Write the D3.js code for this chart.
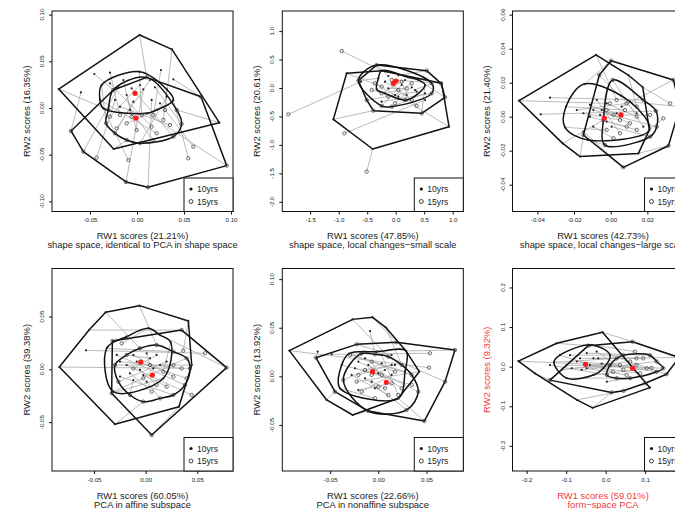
<!DOCTYPE html>
<html>
<head>
<meta charset="utf-8">
<script src="https://cdn.jsdelivr.net/npm/d3@7"></script>
<style>
  body { margin: 0; background: #fff; }
  svg { display: block; font-family: "Liberation Sans", Arial, Helvetica, sans-serif; }
</style>
</head>
<body>
<svg id="chart" width="675" height="509"></svg>
<script>
// Relative-warp scores of the same individuals at 10 and 15 years.
// Each row i in a "10" array is paired with row i in the matching "15" array.
const groupNames = ["10yrs", "15yrs"];

// shape space, identical to PCA in shape space
const shapeSpace10 = [[-0.0833,0.0203],[0.0028,0.0782],[0.0372,0.0628],[0.0876,-0.0157],[-0.0248,-0.0439],[-0.0454,0.0364],[-0.0287,0.0378],[0.0025,0.0389],[0.0255,0.0407],[0.0387,0.0307],[-0.0596,0.0168],[-0.0376,0.0246],[-0.0199,0.0221],[-0.0110,0.0139],[0.0067,0.0200],[0.0191,0.0221],[0.0316,0.0200],[0.0156,0.0086],[-0.0039,0.0068],[-0.0234,0.0086],[-0.0358,-0.0004],[0.0103,-0.0057],[-0.0074,-0.0021],[0.0245,0.0050],[-0.0145,0.0300],[0.0387,0.0086],
  [-0.0394,0.0086],[0.0138,0.0300],[-0.0181,0.0014],[0.0316,0.0121],[0.0032,0.0246],[-0.0287,0.0264],[0.0209,-0.0021],[-0.0057,0.0211]];
const shapeSpace15 = [[-0.0305,-0.0021],[0.0103,0.0328],[0.0298,-0.0021],[0.0422,-0.0021],[-0.0110,-0.0343],[-0.0252,0.0193],[-0.0181,-0.0075],[0.0050,-0.0075],[0.0174,-0.0075],[0.0681,0.0121],[-0.0702,-0.0246],[-0.0330,-0.0164],[-0.0571,-0.0468],[-0.0004,-0.0236],[-0.0117,-0.0792],[0.0475,-0.0171],[0.0280,-0.0128],[0.0117,-0.0849],[-0.0234,-0.0271],[-0.0429,-0.0532],[-0.0092,-0.0557],[0.0954,-0.0617],[0.0174,-0.0343],[0.0599,-0.0414],[-0.0057,-0.0093],[0.0546,-0.0539],
  [0.0209,-0.0271],[-0.0216,-0.0218],[0.0351,-0.0182],[0.0032,-0.0378],[-0.0287,-0.0093],[0.0156,-0.0200],[-0.0110,-0.0164],[0.0387,-0.0307]];
const shapeSpaceCenters = [[-0.0021,0.0157],[-0.0011,-0.0107]];

// shape space, local changes - small scale
const smallScale10 = [[-0.608,0.111],[-0.246,0.305],[-0.404,-1.072],[0.515,-0.211],[-0.860,0.258],[0.807,0.082],[0.936,-0.680],[-1.094,-0.551],[-0.304,0.170],[-0.129,0.211],[0.047,0.223],[0.222,0.187],[0.398,0.141],[0.515,0.053],[0.368,-0.064],[0.193,-0.123],[-0.012,-0.123],[-0.187,-0.094],[-0.333,-0.023],[-0.070,0.082],[0.105,0.053],[0.281,0.012],[-0.246,-0.240],[0.193,-0.211],
  [-0.187,0.111],[0.164,0.141],[0.339,-0.035],[0.047,-0.152],[-0.129,-0.006],[0.515,-0.094]];
const smallScale15 = [[-1.883,-0.463],[-0.947,0.650],[-0.509,-1.470],[-0.901,-0.797],[-0.246,0.023],[-0.070,0.141],[0.164,-0.211],[-0.392,-0.398],[-0.655,0.129],[-0.333,0.404],[0.544,0.305],[0.795,0.082],[0.865,-0.164],[0.456,-0.445],[-0.509,-0.211],[0.105,0.111],[0.281,0.082],[0.047,-0.035],[-0.129,-0.152],[0.368,-0.316],[-0.246,-0.316],[-0.012,-0.269],[0.632,-0.094],[-0.421,-0.035],
  [0.281,-0.211],[-0.246,-0.094],[0.632,0.082],[-0.363,0.082],[0.193,-0.006],[-0.070,-0.328]];
const smallScaleCenters = [[0.006,0.123],[-0.041,0.082]];
const smallScaleOutliers15 = [0, 1, 2, 3];

// shape space, local changes - large scale
const largeScale10 = [[-0.0500,0.0094],[-0.0080,0.0363],[0.0096,0.0245],[0.0175,0.0173],[0.0211,-0.0078],[0.0151,-0.0216],[-0.0167,-0.0235],[-0.0262,-0.0157],[-0.0331,0.0112],[-0.0244,0.0059],[-0.0382,0.0014],[-0.0249,-0.0063],[-0.0144,0.0192],[-0.0149,0.0020],[-0.0113,0.0069],[-0.0076,0.0098],[-0.0049,0.0039],[-0.0022,-0.0029],[-0.0095,-0.0059],[-0.0149,-0.0088],[0.0005,-0.0059],[0.0060,0.0059],[0.0105,0.0088],[0.0142,0.0020],[0.0178,-0.0059],[-0.0122,-0.0137],
  [-0.0113,0.0000],[-0.0058,0.0010],[-0.0185,0.0039],[0.0033,0.0020],[-0.0095,0.0039],[-0.0022,0.0078]];
const largeScale15 = [[-0.0004,0.0078],[0.0033,0.0098],[0.0142,0.0059],[0.0324,0.0078],[0.0287,-0.0010],[0.0315,-0.0171],[-0.0149,-0.0108],[-0.0040,-0.0020],[0.0178,0.0098],[0.0078,0.0039],[0.0247,0.0033],[-0.0022,-0.0078],[0.0002,0.0329],[0.0051,-0.0020],[0.0015,0.0010],[0.0051,-0.0098],[0.0105,-0.0039],[0.0087,-0.0059],[0.0015,-0.0127],[0.0069,-0.0298],[0.0215,-0.0118],[0.0342,0.0216],[0.0378,0.0059],[-0.0062,0.0245],[0.0011,0.0216],[-0.0031,-0.0167],
  [0.0142,-0.0078],[0.0215,0.0010],[0.0087,0.0078],[-0.0022,0.0039],[0.0251,-0.0059],[0.0142,0.0000]];
const largeScaleCenters = [[-0.0035,-0.0010],[0.0056,0.0010]];

// PCA in affine subspace
const affine10 = [[-0.0835,0.0022],[-0.0548,0.0372],[-0.0387,0.0540],[-0.0061,0.0603],[0.0413,0.0458],[0.0445,0.0041],[0.0322,-0.0354],[-0.0297,-0.0521],[-0.0577,0.0180],[-0.0377,0.0199],[-0.0184,0.0309],[0.0026,0.0388],[0.0139,0.0325],[0.0242,0.0256],[-0.0280,0.0136],[-0.0119,0.0136],[0.0010,0.0152],[0.0106,0.0136],[0.0203,0.0073],[-0.0184,0.0041],[-0.0055,-0.0006],[0.0074,0.0009],[-0.0248,-0.0069],[-0.0119,-0.0101],[0.0010,-0.0117],[0.0171,-0.0085],[-0.0313,-0.0211],
  [-0.0248,0.0073],[-0.0087,0.0073],[0.0042,0.0104],[0.0139,0.0041],[-0.0152,-0.0038],[-0.0023,-0.0054]];
const affine15 = [[0.0429,0.0009],[0.0348,0.0372],[-0.0055,0.0199],[0.0106,0.0230],[0.0364,0.0177],[-0.0297,0.0041],[0.0058,-0.0622],[-0.0023,-0.0306],[0.0574,0.0152],[0.0268,0.0167],[-0.0322,0.0268],[-0.0232,0.0246],[0.0783,0.0016],[0.0171,-0.0022],[0.0380,-0.0148],[0.0268,-0.0069],[0.0042,0.0041],[-0.0119,0.0009],[-0.0264,-0.0117],[0.0445,-0.0243],[0.0106,-0.0148],[-0.0023,-0.0085],[0.0268,-0.0243],[-0.0152,-0.0243],[0.0139,-0.0275],[-0.0329,-0.0227],[0.0397,0.0104],
  [0.0348,0.0009],[0.0397,-0.0085],[-0.0184,0.0136],[0.0268,0.0041],[0.0058,-0.0211],[0.0203,-0.0164]];
const affineCenters = [[-0.0048,0.0069],[0.0064,-0.0054]];

// PCA in nonaffine subspace
const nonaffine10 = [[-0.0923,0.0264],[-0.0266,0.0586],[-0.0059,0.0607],[0.0076,0.0504],[0.0287,0.0261],[0.0425,0.0048],[0.0207,-0.0226],[-0.0266,-0.0398],[-0.0536,-0.0243],[-0.0086,0.0466],[-0.0629,0.0254],[-0.0484,0.0226],[-0.0304,0.0233],[-0.0173,0.0237],[-0.0017,0.0254],[0.0138,0.0219],[-0.0380,0.0117],[-0.0207,0.0151],[-0.0104,0.0117],[0.0035,0.0134],[0.0173,0.0117],[-0.0277,0.0014],[-0.0138,-0.0021],[0.0000,0.0031],[0.0138,0.0014],[0.0277,0.0048],[-0.0398,-0.0123],[-0.0207,-0.0141],[-0.0035,-0.0123],
  [-0.0138,0.0185],[0.0069,0.0065],[-0.0242,0.0082],[-0.0069,-0.0055],[0.0138,0.0117],[0.0035,0.0219]];
const nonaffine15 = [[0.0526,0.0089],[0.0104,0.0202],[0.0190,0.0350],[0.0242,0.0117],[0.0795,0.0271],[-0.0225,-0.0055],[0.0477,-0.0460],[-0.0104,-0.0357],[-0.0450,-0.0158],[-0.0035,0.0226],[-0.0647,0.0192],[0.0536,0.0237],[0.0346,0.0014],[-0.0180,0.0233],[0.0692,-0.0055],[-0.0225,0.0329],[0.0035,0.0014],[0.0415,-0.0158],[0.0242,-0.0123],[-0.0363,-0.0038],[-0.0138,0.0065],[0.0104,-0.0192],[0.0294,-0.0346],[-0.0069,0.0151],[-0.0173,-0.0158],[-0.0294,0.0219],[-0.0035,-0.0226],[0.0138,-0.0072],[0.0000,-0.0106],
  [0.0173,0.0048],[-0.0069,0.0014],[0.0346,-0.0089],[0.0069,-0.0123],[-0.0207,0.0014],[0.0207,-0.0192]];
const nonaffineCenters = [[-0.0059,0.0048],[0.0083,-0.0062]];

// form-space PCA
const formSpace10 = [[-0.221,0.014],[-0.124,0.059],[-0.008,0.087],[0.112,-0.053],[-0.033,-0.104],[-0.179,-0.017],[-0.131,0.011],[-0.111,-0.008],[-0.090,0.029],[-0.086,-0.004],[-0.065,0.021],[-0.048,0.034],[-0.061,-0.008],[-0.040,0.004],[-0.019,0.021],[-0.006,-0.004],[0.011,0.029],[-0.099,-0.029],[-0.035,0.055],[-0.073,-0.084],[0.003,-0.038],[-0.031,-0.021],[-0.141,0.004],[-0.023,0.038],
  [-0.073,0.013],[-0.031,0.021],[-0.099,0.004],[-0.048,-0.004],[-0.010,0.008],[-0.116,0.029]];
const formSpace15 = [[0.011,0.004],[-0.044,0.053],[0.068,0.063],[0.100,-0.042],[0.015,-0.065],[-0.141,-0.034],[0.028,0.021],[0.062,0.013],[0.045,0.029],[0.078,0.004],[0.095,0.021],[0.112,0.029],[0.129,0.013],[0.146,-0.004],[0.186,0.023],[0.087,-0.017],[0.154,-0.019],[0.028,-0.029],[0.074,0.038],[0.045,-0.061],[0.062,-0.029],[0.116,-0.003],[0.003,-0.021],[0.045,-0.008],
  [0.036,0.004],[0.078,0.021],[0.104,-0.004],[0.053,-0.021],[0.129,-0.013],[0.019,-0.013]];
const formSpaceCenters = [[-0.051,0.006],[0.068,-0.004]];

// Axis annotation
const rw1Percent = ["21.21", "47.85", "42.73", "60.05", "22.66", "59.01"];
const rw2Percent = ["16.35", "20.61", "21.40", "39.38", "13.92", "9.32"];
const subtitles = [
  "shape space, identical to PCA in shape space",
  "shape space, local changes\u2212small scale",
  "shape space, local changes\u2212large scale",
  "PCA in affine subspace",
  "PCA in nonaffine subspace",
  "form\u2212space PCA"
];
const ticksHundredths = [-0.10, -0.05, 0, 0.05, 0.10];
const ticksHundredthsLabels = ["-0.10", "-0.05", "0.00", "0.05", "0.10"];
const ticksTenths = [-2.0, -1.5, -1.0, -0.5, 0, 0.5, 1.0];
const ticksTenthsLabels = ["-2.0", "-1.5", "-1.0", "-0.5", "0.0", "0.5", "1.0"];
const ticksFine = [-0.04, -0.02, 0, 0.02, 0.04, 0.06];
const ticksFineLabels = ["-0.04", "-0.02", "0.00", "0.02", "0.04", "0.06"];
const ticksForm = [-0.2, -0.1, 0, 0.1, 0.2];
const ticksFormLabels = ["-0.2", "-0.1", "0.0", "0.1", "0.2"];

// Panel layout (pixels) and visible data ranges
const colLeft = [52, 282.3, 512.5];
const rowTop = [11, 268.5];
const rowBottom = [211.5, 471];
const plotWidth = 181;
const bagShare = 0.7;

const panels = [
  { a: shapeSpace10, b: shapeSpace15, centers: shapeSpaceCenters, out15: [],
    col: 0, row: 0, xDomain: [-0.09043, 0.10213], yDomain: [-0.11081, 0.10385],
    xTicks: ticksHundredths.slice(1), xLabels: ticksHundredthsLabels.slice(1),
    yTicks: ticksHundredths, yLabels: ticksHundredthsLabels, red: false },
  { a: smallScale10, b: smallScale15, centers: smallScaleCenters, out15: smallScaleOutliers15,
    col: 1, row: 0, xDomain: [-1.9895, 1.1860], yDomain: [-2.1705, 1.3533],
    xTicks: ticksTenths.slice(1, 7), xLabels: ticksTenthsLabels.slice(1, 7),
    yTicks: ticksTenths, yLabels: ticksTenthsLabels, red: false },
  { a: largeScale10, b: largeScale15, centers: largeScaleCenters, out15: [],
    col: 2, row: 0, xDomain: [-0.05356, 0.04516], yDomain: [-0.05578, 0.06216],
    xTicks: ticksFine.slice(0, 5), xLabels: ticksFineLabels.slice(0, 5),
    yTicks: ticksFine, yLabels: ticksFineLabels, red: false },
  { a: affine10, b: affine15, centers: affineCenters, out15: [],
    col: 0, row: 1, xDomain: [-0.09059, 0.08446], yDomain: [-0.09628, 0.09549],
    xTicks: ticksHundredths.slice(1, 4), xLabels: ticksHundredthsLabels.slice(1, 4),
    yTicks: ticksHundredths.slice(1, 4), yLabels: ticksHundredthsLabels.slice(1, 4), red: false },
  { a: nonaffine10, b: nonaffine15, centers: nonaffineCenters, out15: [],
    col: 1, row: 1, xDomain: [-0.09962, 0.08814], yDomain: [-0.09740, 0.11094],
    xTicks: ticksHundredths.slice(1, 4), xLabels: ticksHundredthsLabels.slice(1, 4),
    yTicks: ticksHundredths.slice(1), yLabels: ticksHundredthsLabels.slice(1), red: false },
  { a: formSpace10, b: formSpace15, centers: formSpaceCenters, out15: [],
    col: 2, row: 1, xDomain: [-0.23587, 0.22236], yDomain: [-0.26347, 0.24790],
    xTicks: ticksForm, xLabels: ticksFormLabels,
    yTicks: ticksForm, yLabels: ticksFormLabels, red: true }
];

const svg = d3.select("#chart");
svg.append("rect").attr("width", 675).attr("height", 509).attr("fill", "#fff");
const defs = svg.append("defs");

// Central part of a group: the points closest (Mahalanobis) to its centre
function bagHull(pts, c, share) {
  const n = pts.length;
  let sxx = 0, syy = 0, sxy = 0;
  pts.forEach(([px, py]) => {
    const dx = px - c[0], dy = py - c[1];
    sxx += dx * dx; syy += dy * dy; sxy += dx * dy;
  });
  const det = sxx * syy - sxy * sxy;
  const d2 = ([px, py]) => {
    const dx = px - c[0], dy = py - c[1];
    return (syy * dx * dx - 2 * sxy * dx * dy + sxx * dy * dy) / det;
  };
  const inner = pts.slice().sort((p, q) => d2(p) - d2(q)).slice(0, Math.ceil(n * share));
  return d3.polygonHull(inner);
}

const textColor = "#222";
const accent = "#ef3b3b";

panels.forEach((p, k) => {
  const left = colLeft[p.col], right = left + plotWidth;
  const top = rowTop[p.row], bottom = rowBottom[p.row];
  const x = d3.scaleLinear().domain(p.xDomain).range([left, right]);
  const y = d3.scaleLinear().domain(p.yDomain).range([bottom, top]);
  const g = svg.append("g");

  defs.append("clipPath").attr("id", "clip" + k)
    .append("rect").attr("x", left).attr("y", top)
    .attr("width", right - left).attr("height", bottom - top);
  const plot = g.append("g").attr("clip-path", `url(#clip${k})`);

  // links between the two ages of each individual
  plot.append("g").selectAll("line").data(d3.range(p.a.length)).join("line")
    .attr("x1", i => x(p.a[i][0])).attr("y1", i => y(p.a[i][1]))
    .attr("x2", i => x(p.b[i][0])).attr("y2", i => y(p.b[i][1]))
    .attr("stroke", "#a9a9a9").attr("stroke-width", 0.8);

  // outer loop and inner bag for each group
  const smooth = d3.line().curve(d3.curveCatmullRomClosed.alpha(0.5));
  [p.a, p.b].forEach((pts, gi) => {
    const out = gi === 1 ? p.out15 : [];
    const kept = pts.filter((d, i) => !out.includes(i));
    const loop = d3.polygonHull(kept.map(d => [x(d[0]), y(d[1])]));
    plot.append("path").attr("d", "M" + loop.join("L") + "Z")
      .attr("fill", "none").attr("stroke", "#111").attr("stroke-width", 1.5)
      .attr("stroke-linejoin", "round");
    const bag = bagHull(kept, p.centers[gi], bagShare).map(d => [x(d[0]), y(d[1])]);
    plot.append("path").attr("d", smooth(bag))
      .attr("fill", "none").attr("stroke", "#111").attr("stroke-width", 1.5);
  });

  // points
  plot.append("g").selectAll("circle").data(p.a).join("circle")
    .attr("cx", d => x(d[0])).attr("cy", d => y(d[1])).attr("r", 1.1)
    .attr("fill", "#222");
  plot.append("g").selectAll("circle").data(p.b).join("circle")
    .attr("cx", d => x(d[0])).attr("cy", d => y(d[1])).attr("r", 1.7)
    .attr("fill", "none").attr("stroke", "#333").attr("stroke-width", 0.7);

  // group centres
  plot.append("g").selectAll("circle").data(p.centers).join("circle")
    .attr("cx", d => x(d[0])).attr("cy", d => y(d[1])).attr("r", 2.6)
    .attr("fill", "#ff1a1a");

  // frame
  g.append("rect").attr("x", left).attr("y", top)
    .attr("width", right - left).attr("height", bottom - top)
    .attr("fill", "none").attr("stroke", "#111").attr("stroke-width", 1);

  // x axis
  const xa = g.append("g").attr("transform", `translate(0,${bottom})`)
    .call(d3.axisBottom(x).tickValues(p.xTicks).tickSize(3)
      .tickFormat((d, i) => p.xLabels[i]).tickPadding(3.5));
  xa.select(".domain").remove();
  xa.selectAll("line").attr("stroke", "#111");
  xa.selectAll("text").attr("font-size", 6.2).attr("fill", textColor)
    .attr("font-family", "Liberation Sans, Arial, sans-serif");

  // y axis with labels parallel to the axis
  const ya = g.append("g").attr("transform", `translate(${left},0)`)
    .call(d3.axisLeft(y).tickValues(p.yTicks).tickSize(3).tickFormat(""));
  ya.select(".domain").remove();
  ya.selectAll("line").attr("stroke", "#111");
  g.append("g").selectAll("text").data(p.yTicks).join("text")
    .attr("transform", d => `translate(${left - 10.5},${y(d)}) rotate(-90)`)
    .attr("text-anchor", "middle").attr("dominant-baseline", "central")
    .attr("font-size", 6.2).attr("fill", textColor)
    .text((d, i) => p.yLabels[i]);

  // titles
  const titleColor = p.red ? accent : textColor;
  const cx = (left + right) / 2, cy = (top + bottom) / 2;
  g.append("text").attr("x", cx).attr("y", bottom + 24)
    .attr("text-anchor", "middle").attr("dominant-baseline", "central")
    .attr("font-size", 9.4).attr("fill", titleColor)
    .text(`RW1 scores (${rw1Percent[k]}%)`);
  g.append("text").attr("x", cx).attr("y", bottom + 33)
    .attr("text-anchor", "middle").attr("dominant-baseline", "central")
    .attr("font-size", 9.4).attr("fill", titleColor)
    .text(subtitles[k]);
  g.append("text")
    .attr("transform", `translate(${left - 26},${cy}) rotate(-90)`)
    .attr("text-anchor", "middle").attr("dominant-baseline", "central")
    .attr("font-size", 9.4).attr("fill", titleColor)
    .text(`RW2 scores (${rw2Percent[k]}%)`);

  // legend
  const lw = 49, lh = 33.5, lx = right - lw, ly = bottom - lh;
  const lg = g.append("g");
  lg.append("rect").attr("x", lx).attr("y", ly).attr("width", lw).attr("height", lh)
    .attr("fill", "#fff").attr("stroke", "#111").attr("stroke-width", 1);
  groupNames.forEach((name, gi) => {
    const ry = ly + 11 + gi * 12.5;
    const sym = lg.append("circle").attr("cx", lx + 7).attr("cy", ry);
    if (gi === 0) sym.attr("r", 1.6).attr("fill", "#111");
    else sym.attr("r", 2).attr("fill", "none").attr("stroke", "#111").attr("stroke-width", 0.8);
    lg.append("text").attr("x", lx + 13).attr("y", ry)
      .attr("dominant-baseline", "central").attr("font-size", 8.6)
      .attr("fill", textColor).text(name);
  });
});
</script>
</body>
</html>
